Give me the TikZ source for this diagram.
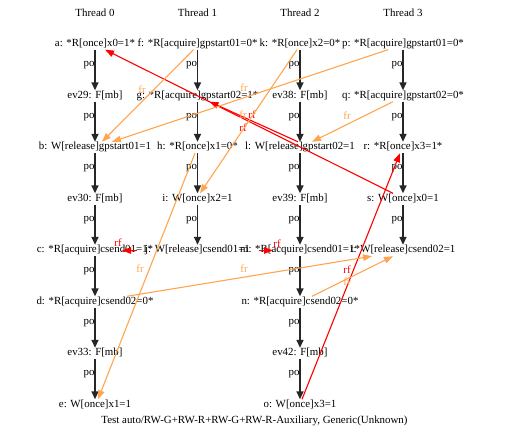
\documentclass[tikz,border=0pt]{standalone}
\usepackage{fontspec}
\setmainfont{Liberation Serif}
\usetikzlibrary{arrows.meta}
\definecolor{frcol}{RGB}{255,165,79}

\begin{document}
\begin{tikzpicture}[
  x=1pt, y=-1pt,
  ev/.style={inner sep=1pt, text height=7pt, text depth=2pt,
             font=\fontsize{10.9}{12}\selectfont},
  po/.style={draw=black!85, line width=1.6pt, -{Triangle[length=8pt, width=7pt]}},
  rf/.style={draw=red, line width=1.1pt, -{Triangle[length=9pt, width=6.5pt]}},
  fr/.style={draw=frcol, line width=1.1pt, -{Triangle[length=9pt, width=6.5pt]}},
  polbl/.style={font=\fontsize{10.9}{12}\selectfont, inner sep=0pt,
                midway, xshift=-6pt, yshift=5pt},
  lbl/.style={font=\fontsize{10.9}{12}\selectfont, inner sep=0pt},
]
\useasboundingbox (0,0) rectangle (509,443);

%% ---- thread headers ----
\node[ev] (th0) at (95,14)    {Thread 0};
\node[ev] (th1) at (197.5,14) {Thread 1};
\node[ev] (th2) at (300,14)   {Thread 2};
\node[ev] (th3) at (403,14)   {Thread 3};

%% ---- Thread 0 ----
\node[ev] (a)    at (95,44)    {a: *R[once]x0=1*};
\node[ev] (ev29) at (95,96)    {ev29: F[mb]};
\node[ev] (b)    at (95,147.5) {b: W[release]gpstart01=1};
\node[ev] (ev30) at (95,199)   {ev30: F[mb]};
\node[ev] (c)    at (95,250.5) {c: *R[acquire]csend01=1*};
\node[ev] (d)    at (95,302)   {d: *R[acquire]csend02=0*};
\node[ev] (ev33) at (95,353.5) {ev33: F[mb]};
\node[ev] (e)    at (95,405)   {e: W[once]x1=1};

%% ---- Thread 1 ----
\node[ev] (f) at (197.5,44)    {f: *R[acquire]gpstart01=0*};
\node[ev] (g) at (197.5,96)    {g: *R[acquire]gpstart02=1*};
\node[ev] (h) at (197.5,147.5) {h: *R[once]x1=0*};
\node[ev] (i) at (197.5,199)   {i: W[once]x2=1};
\node[ev] (j) at (197.5,250.5) {j: W[release]csend01=1};

%% ---- Thread 2 ----
\node[ev] (k)    at (300,44)    {k: *R[once]x2=0*};
\node[ev] (ev38) at (300,96)    {ev38: F[mb]};
\node[ev] (l)    at (300,147.5) {l: W[release]gpstart02=1};
\node[ev] (ev39) at (300,199)   {ev39: F[mb]};
\node[ev] (m)    at (300,250.5) {m: *R[acquire]csend01=1*};
\node[ev] (n)    at (300,302)   {n: *R[acquire]csend02=0*};
\node[ev] (ev42) at (300,353.5) {ev42: F[mb]};
\node[ev] (o)    at (300,405)   {o: W[once]x3=1};

%% ---- Thread 3 ----
\node[ev] (p) at (403,44)    {p: *R[acquire]gpstart01=0*};
\node[ev] (q) at (403,96)    {q: *R[acquire]gpstart02=0*};
\node[ev] (r) at (403,147.5) {r: *R[once]x3=1*};
\node[ev] (s) at (403,199)   {s: W[once]x0=1};
\node[ev] (t) at (403,250.5) {t: W[release]csend02=1};

%% ---- program order ----
\draw[po] (a) -- (ev29) node[polbl] {po};
\draw[po] (ev29) -- (b) node[polbl] {po};
\draw[po] (b) -- (ev30) node[polbl] {po};
\draw[po] (ev30) -- (c) node[polbl] {po};
\draw[po] (c) -- (d) node[polbl] {po};
\draw[po] (d) -- (ev33) node[polbl] {po};
\draw[po] (ev33) -- (e) node[polbl] {po};

\draw[po] (f) -- (g) node[polbl] {po};
\draw[po] (g) -- (h) node[polbl] {po};
\draw[po] (h) -- (i) node[polbl] {po};
\draw[po] (i) -- (j) node[polbl] {po};

\draw[po] (k) -- (ev38) node[polbl] {po};
\draw[po] (ev38) -- (l) node[polbl] {po};
\draw[po] (l) -- (ev39) node[polbl] {po};
\draw[po] (ev39) -- (m) node[polbl] {po};
\draw[po] (m) -- (n) node[polbl] {po};
\draw[po] (n) -- (ev42) node[polbl] {po};
\draw[po] (ev42) -- (o) node[polbl] {po};

\draw[po] (p) -- (q) node[polbl] {po};
\draw[po] (q) -- (r) node[polbl] {po};
\draw[po] (r) -- (s) node[polbl] {po};
\draw[po] (s) -- (t) node[polbl] {po};

%% ---- reads-from ----
\draw[rf] ([xshift=-10pt]s.north) -- ([xshift=10pt]a.south);
\draw[rf] ([xshift=-2pt]l.north) -- ([xshift=12pt]g.south);
\draw[rf] ([xshift=-61pt]j.center) -- ([xshift=27pt]c.center);
\draw[rf] ([xshift=61pt]j.center) -- ([xshift=-27pt]m.center);
\draw[rf] ([xshift=2pt]o.north) -- ([xshift=-3pt]r.south);

\node[lbl, text=red] (lsa) at (243,128) {rf};
\node[lbl, text=red] (llg) at (252,115) {rf};
\node[lbl, text=red] (ljc) at (118,243) {rf};
\node[lbl, text=red] (ljm) at (277,244) {rf};
\node[lbl, text=red] (lor) at (347,270) {rf};

%% ---- from-reads ----
\draw[fr] ([xshift=-4pt]f.south) -- ([xshift=7pt]b.north);
\draw[fr] ([xshift=-15pt]p.south) -- ([xshift=17pt]b.north);
\draw[fr] ([xshift=-10pt]q.south) -- ([xshift=12pt]l.north);
\draw[fr] ([xshift=-3pt]k.south) -- ([xshift=2.5pt]i.north);
\draw[fr] ([xshift=-2.5pt]h.south) -- ([xshift=3pt]e.north);
\draw[fr] ([xshift=32pt]d.north) -- ([xshift=-31pt]t.south);
\draw[fr] ([xshift=12pt]n.north) -- ([xshift=-10pt]t.south);

\node[lbl, text=frcol] (lfb) at (142,90)  {fr};
\node[lbl, text=frcol] (lpb) at (244,88)  {fr};
\node[lbl, text=frcol] (lki) at (243,115) {fr};
\node[lbl, text=frcol] (lql) at (347,116) {fr};
\node[lbl, text=frcol] (lhe) at (140,269) {fr};
\node[lbl, text=frcol] (ldt) at (244,269) {fr};
\node[lbl, text=frcol] (lnt) at (347,282) {fr};

%% ---- caption ----
\node[ev] (caption) at (254.5,421)
  {Test auto/RW-G+RW-R+RW-G+RW-R-Auxiliary, Generic(Unknown)};

\end{tikzpicture}
\end{document}
